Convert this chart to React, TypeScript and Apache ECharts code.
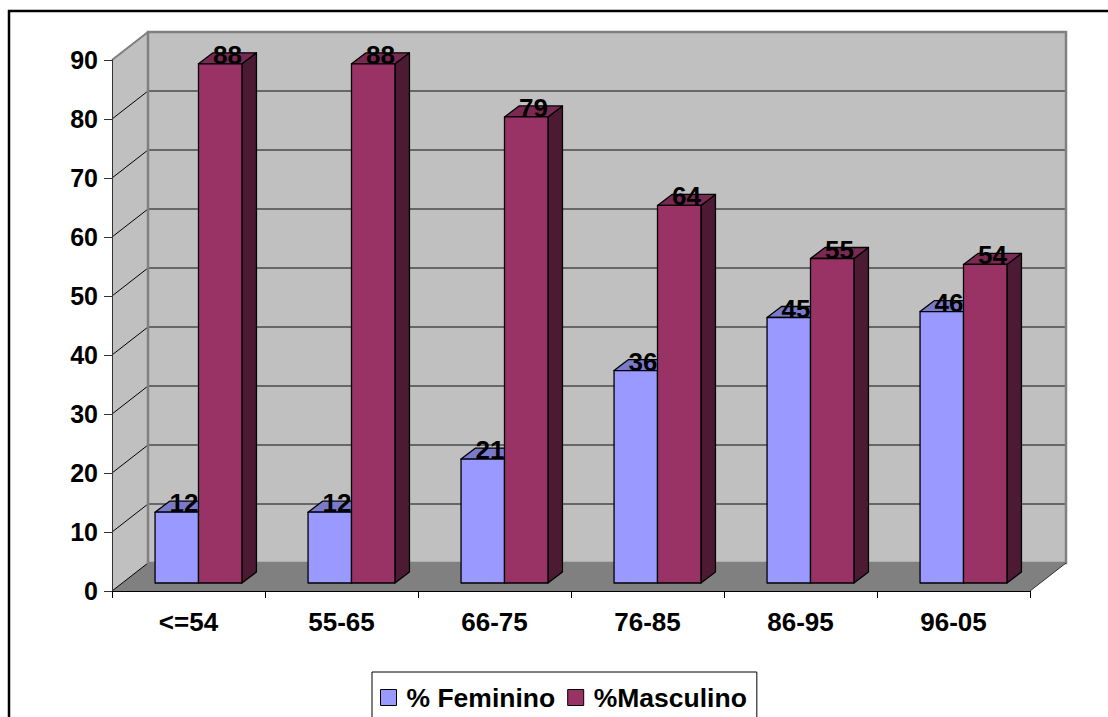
import React, { useEffect, useRef } from "react";
import * as echarts from "echarts";

// Age bands and the share (%) of each sex within them
const categories = ["<=54", "55-65", "66-75", "76-85", "86-95", "96-05"];
const feminino = [12, 12, 21, 36, 45, 46];
const masculino = [88, 88, 79, 64, 55, 54];
const yTicks = [0, 10, 20, 30, 40, 50, 60, 70, 80, 90];
const seriesNames = ["% Feminino", "%Masculino"];

const FONT = "'Liberation Sans', Arial, sans-serif";

// 3D projection: offset from the front plane to the back wall
const DEPTH: [number, number] = [36, -28];
// Bars sit inside the box: front face offset and depth of each column
const BAR_FRONT: [number, number] = [10, -8];
const BAR_DEPTH: [number, number] = [14.5, -11];
const BAR_FRACTION = 0.284;

const palettes = [
  { front: "#9999FF", top: "#7A7ACC", side: "#4D4D80" },
  { front: "#993366", top: "#7A2952", side: "#4D1A33" },
];

function makeBarRenderer(seriesIndex: number) {
  return (params: any, api: any) => {
    const idx = api.value(0);
    const val = api.value(1);
    const [cx] = api.coord([idx, 0]);
    const bw = api.size([1, 0])[0] * BAR_FRACTION;
    const base = api.coord([idx, 0])[1] + BAR_FRONT[1];
    const top = api.coord([idx, val])[1] + BAR_FRONT[1];
    const mid = cx + BAR_FRONT[0];
    const x1 = seriesIndex === 0 ? mid - bw : mid;
    const x2 = seriesIndex === 0 ? mid : mid + bw;
    const [ddx, ddy] = BAR_DEPTH;
    const pal = palettes[seriesIndex];
    const edge = { stroke: "#000", lineWidth: 1.3, lineJoin: "round" };
    return {
      type: "group",
      children: [
        {
          type: "polygon",
          shape: { points: [[x2, top], [x2 + ddx, top + ddy], [x2 + ddx, base + ddy], [x2, base]] },
          style: { fill: pal.side, ...edge },
        },
        {
          type: "polygon",
          shape: { points: [[x1, top], [x2, top], [x2 + ddx, top + ddy], [x1 + ddx, top + ddy]] },
          style: { fill: pal.top, ...edge },
        },
        {
          type: "rect",
          shape: { x: x1, y: top, width: x2 - x1, height: base - top },
          style: { fill: pal.front, ...edge },
        },
        {
          type: "text",
          x: (x1 + x2) / 2 + ddx / 2,
          y: top + 4,
          style: {
            text: String(val),
            fill: "#000",
            font: `bold 26px ${FONT}`,
            textAlign: "center",
            textVerticalAlign: "bottom",
          },
        },
      ],
    };
  };
}

function renderBox(params: any, api: any) {
  const cs = params.coordSys;
  const x0 = cs.x;
  const x1 = cs.x + cs.width;
  const yAt = (v: number) => api.coord([0, v])[1];
  const y0 = yAt(yTicks[0]);
  const yTop = yAt(yTicks[yTicks.length - 1]);
  const [dx, dy] = DEPTH;
  const children: any[] = [
    {
      type: "polygon",
      shape: { points: [[x0, y0], [x0, yTop], [x0 + dx, yTop + dy], [x0 + dx, y0 + dy]] },
      style: { fill: "#C0C0C0" },
    },
    {
      type: "rect",
      shape: { x: x0 + dx, y: yTop + dy, width: x1 - x0, height: y0 - yTop },
      style: { fill: "#C0C0C0" },
    },
    {
      type: "polygon",
      shape: { points: [[x0, y0], [x1, y0], [x1 + dx, y0 + dy], [x0 + dx, y0 + dy]] },
      style: { fill: "#808080" },
    },
  ];
  yTicks.forEach((v) => {
    const y = yAt(v);
    if (v > 0) {
      children.push({
        type: "line",
        shape: { x1: x0 + dx, y1: y + dy, x2: x1 + dx, y2: y + dy },
        style: { stroke: "#4A4A4A", lineWidth: 1.5 },
      });
    }
    children.push({
      type: "line",
      shape: { x1: x0, y1: y, x2: x0 + dx, y2: y + dy },
      style: { stroke: "#000", lineWidth: 1 },
    });
  });
  children.push(
    {
      type: "rect",
      shape: { x: x0 + dx, y: yTop + dy, width: x1 - x0, height: y0 - yTop },
      style: { fill: "none", stroke: "#808080", lineWidth: 2.5 },
    },
    {
      type: "line",
      shape: { x1: x0, y1: yTop, x2: x0 + dx, y2: yTop + dy },
      style: { stroke: "#808080", lineWidth: 2 },
    },
    {
      type: "line",
      shape: { x1: x1, y1: y0, x2: x1 + dx, y2: y0 + dy },
      style: { stroke: "#333", lineWidth: 1 },
    }
  );
  return { type: "group", children };
}

export default function App() {
  const ref = useRef<HTMLDivElement>(null);

  useEffect(() => {
    if (!ref.current) return;
    const chart = echarts.init(ref.current, undefined, { renderer: "svg" });
    chart.setOption({
      animation: false,
      backgroundColor: "#fff",
      color: [palettes[0].front, palettes[1].front],
      grid: { left: 112, right: 78, top: 60, bottom: 126 },
      xAxis: {
        type: "category",
        data: categories,
        boundaryGap: true,
        z: 10,
        axisLine: { show: true, lineStyle: { color: "#000", width: 1 } },
        axisTick: { show: true, length: 7, interval: 0, lineStyle: { color: "#000" } },
        axisLabel: {
          margin: 18,
          interval: 0,
          color: "#000",
          fontSize: 26,
          fontWeight: "bold",
          fontFamily: FONT,
        },
        splitLine: { show: false },
      },
      yAxis: {
        type: "value",
        min: 0,
        max: 90,
        interval: 10,
        z: 10,
        axisLine: { show: true, lineStyle: { color: "#333", width: 1 } },
        axisTick: { show: true, length: 8, lineStyle: { color: "#333" } },
        axisLabel: {
          margin: 14,
          color: "#000",
          fontSize: 25,
          fontWeight: "bold",
          fontFamily: FONT,
        },
        splitLine: { show: false },
      },
      legend: {
        data: seriesNames,
        left: 372,
        top: 672,
        orient: "horizontal",
        icon: "rect",
        itemWidth: 16,
        itemHeight: 16,
        itemGap: 12,
        padding: [12, 10, 40, 8],
        borderColor: "#000",
        borderWidth: 1,
        backgroundColor: "#fff",
        itemStyle: { borderColor: "#000", borderWidth: 1 },
        textStyle: {
          color: "#000",
          fontSize: 26.5,
          fontWeight: "bold",
          fontFamily: FONT,
          padding: [0, 0, 0, 5],
        },
      },
      graphic: [
        {
          type: "rect",
          silent: true,
          z: -1,
          shape: { x: 9, y: 11, width: 1200, height: 800 },
          style: { fill: "none", stroke: "#000", lineWidth: 2.5 },
        },
      ],
      series: [
        {
          type: "custom",
          name: "box",
          silent: true,
          z: 1,
          renderItem: renderBox,
          data: [[0, 0]],
          encode: { x: 0, y: 1 },
        },
        {
          type: "custom",
          name: seriesNames[0],
          z: 3,
          itemStyle: { color: palettes[0].front },
          renderItem: makeBarRenderer(0),
          data: feminino.map((v, i) => [i, v]),
          encode: { x: 0, y: 1 },
        },
        {
          type: "custom",
          name: seriesNames[1],
          z: 4,
          itemStyle: { color: palettes[1].front },
          renderItem: makeBarRenderer(1),
          data: masculino.map((v, i) => [i, v]),
          encode: { x: 0, y: 1 },
        },
      ],
    });
    return () => chart.dispose();
  }, []);

  return (
    <div
      ref={ref}
      style={{ position: "fixed", left: 0, top: 0, width: 1108, height: 717 }}
    />
  );
}
